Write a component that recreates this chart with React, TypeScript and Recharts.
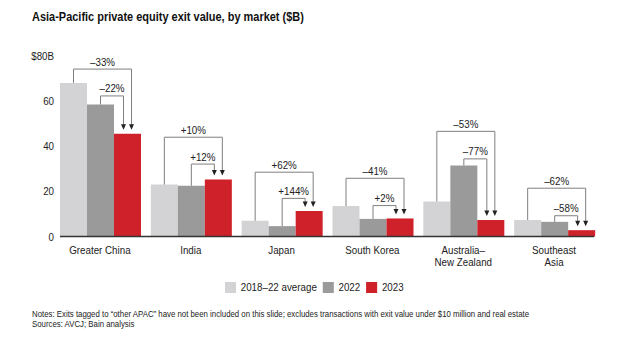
import React from 'react';
import { BarChart, Bar, XAxis, YAxis } from 'recharts';

const FONT = '"Liberation Sans", Arial, Helvetica, sans-serif';
const SQUEEZE = 0.85; // the original type is a narrow sans

const markets = ['Greater China', 'India', 'Japan', 'South Korea', 'Australia–\nNew Zealand', 'Southeast\nAsia'];
const avg1822 = [68, 23, 7, 13.5, 15.5, 7.3];
const y2022 = [58.5, 22.5, 4.6, 7.8, 31.5, 6.5];
const y2023 = [45.5, 25.3, 11.3, 8, 7.3, 2.8];

// change vs 2018–22 average (outer bracket) and vs 2022 (inner bracket)
const outerLabels = ['–33%', '+10%', '+62%', '–41%', '–53%', '–62%'];
const innerLabels = ['–22%', '+12%', '+144%', '+2%', '–77%', '–58%'];
// bracket heights in $B
const outerLevels = [74.2, 44, 28.5, 25.8, 46.6, 21.4];
const innerLevels = [62.3, 32.1, 16.9, 13.7, 34.4, 9.2];

const yTicks = [0, 20, 40, 60, 80];

const COLORS = { avg: '#d3d3d5', y22: '#9a9a9a', y23: '#cf2129' };

const data = markets.map((m, i) => ({
  market: m,
  avg: avg1822[i],
  y22: y2022[i],
  y23: y2023[i],
}));

const NarrowText = ({ x, y, anchor = 'middle', dy = 0, children }: any) => (
  <text
    transform={`translate(${x},${y}) scale(${SQUEEZE},1)`}
    textAnchor={anchor}
    dy={dy}
    fontSize={11.5}
    fill="#222"
    fontFamily={FONT}
  >
    {children}
  </text>
);

const CatTick = (props: any) => {
  const { x, y, payload } = props;
  const lines = String(payload.value).split('\n');
  return (
    <g>
      {lines.map((l, i) => (
        <NarrowText key={i} x={x} y={y + 17.5 + i * 11.5}>
          {l}
        </NarrowText>
      ))}
    </g>
  );
};

const ValTick = (props: any) => {
  const { x, y, payload } = props;
  const v = payload.value;
  return (
    <NarrowText x={x} y={y} anchor="end" dy="0.355em">
      {v === 80 ? '$80B' : String(v)}
    </NarrowText>
  );
};

const Arrow = ({ ax, top, tip }: { ax: number; top: number; tip: number }) => (
  <>
    <line x1={ax} y1={top} x2={ax} y2={tip - 5} stroke="#7f7f7f" strokeWidth={1} />
    <path d={`M${ax - 2.5},${tip - 5.5} L${ax + 2.5},${tip - 5.5} L${ax},${tip} Z`} fill="#222" />
  </>
);

const Brackets = (props: any) => {
  const vb = props.viewBox || {};
  const x = props.x ?? vb.x;
  const y = props.y ?? vb.y;
  const w = props.width ?? vb.width;
  const h = props.height ?? vb.height;
  const i = props.index;
  if (i == null || x == null) return null;
  const bottom = y + h;
  const ppu = h / y2023[i];
  const py = (v: number) => bottom - v * ppu;
  const lightC = x - 1.5 * w;
  const darkC = x - 0.5 * w;
  const redC = x + 0.5 * w;
  const outerX = redC + 4;
  const innerX = redC - 4;
  const oy = py(outerLevels[i]);
  const iy = py(innerLevels[i]);
  const tip = y - 4;
  return (
    <g>
      <polyline
        points={`${lightC},${py(avg1822[i])} ${lightC},${oy} ${outerX},${oy}`}
        fill="none"
        stroke="#7f7f7f"
        strokeWidth={1}
      />
      <Arrow ax={outerX} top={oy} tip={tip} />
      <polyline
        points={`${darkC},${py(y2022[i])} ${darkC},${iy} ${innerX},${iy}`}
        fill="none"
        stroke="#7f7f7f"
        strokeWidth={1}
      />
      <Arrow ax={innerX} top={iy} tip={tip} />
      <NarrowText x={(lightC + outerX) / 2} y={oy - 3.5}>
        {outerLabels[i]}
      </NarrowText>
      <NarrowText x={(darkC + innerX) / 2} y={iy - 3.5}>
        {innerLabels[i]}
      </NarrowText>
    </g>
  );
};

const legendItems = [
  { label: '2018–22 average', color: COLORS.avg },
  { label: '2022', color: COLORS.y22 },
  { label: '2023', color: COLORS.y23 },
];

const squeeze = { transform: `scaleX(${SQUEEZE})`, transformOrigin: 'left top' };

export default function App() {
  return (
    <div
      style={{
        position: 'absolute',
        left: 0,
        top: 0,
        width: 640,
        height: 342,
        background: '#fff',
        fontFamily: FONT,
        color: '#222',
      }}
    >
      <div
        style={{
          position: 'absolute',
          left: 32,
          top: 10,
          fontSize: 12.2,
          fontWeight: 'bold',
          color: '#111',
          whiteSpace: 'nowrap',
          transform: 'scaleX(0.9)',
          transformOrigin: 'left top',
        }}
      >
        Asia-Pacific private equity exit value, by market ($B)
      </div>
      <BarChart
        width={640}
        height={342}
        data={data}
        margin={{ top: 56, right: 46, left: 0, bottom: 75.5 }}
        barCategoryGap={5.5}
        barGap={0}
      >
        <XAxis
          dataKey="market"
          interval={0}
          height={30}
          padding={{ left: -5.5, right: -5.5 }}
          tickLine={false}
          tickSize={0}
          tickMargin={0}
          axisLine={{ stroke: '#333', strokeWidth: 1.5 }}
          tick={<CatTick />}
        />
        <YAxis
          width={60}
          domain={[0, 80]}
          ticks={yTicks}
          axisLine={false}
          tickLine={false}
          tickSize={0}
          tickMargin={6}
          tick={<ValTick />}
        />
        <Bar dataKey="avg" name="2018–22 average" fill={COLORS.avg} isAnimationActive={false} />
        <Bar dataKey="y22" name="2022" fill={COLORS.y22} isAnimationActive={false} />
        <Bar dataKey="y23" name="2023" fill={COLORS.y23} isAnimationActive={false} label={<Brackets />} />
      </BarChart>
      <div
        style={{
          position: 'absolute',
          left: 225,
          top: 281,
          display: 'flex',
          alignItems: 'center',
          fontSize: 11.5,
          whiteSpace: 'nowrap',
          ...squeeze,
        }}
      >
        {legendItems.map((it) => (
          <div key={it.label} style={{ display: 'flex', alignItems: 'center', marginRight: 7 }}>
            <span style={{ display: 'inline-block', width: 13, height: 11, background: it.color, marginRight: 5.5 }} />
            <span style={{ lineHeight: '12px' }}>{it.label}</span>
          </div>
        ))}
      </div>
      <div
        style={{
          position: 'absolute',
          left: 32,
          top: 309,
          fontSize: 8.7,
          lineHeight: '10px',
          whiteSpace: 'nowrap',
          transform: 'scaleX(0.9)',
          transformOrigin: 'left top',
        }}
      >
        <div>Notes: Exits tagged to “other APAC” have not been included on this slide; excludes transactions with exit value under $10 million and real estate</div>
        <div>Sources: AVCJ; Bain analysis</div>
      </div>
    </div>
  );
}
